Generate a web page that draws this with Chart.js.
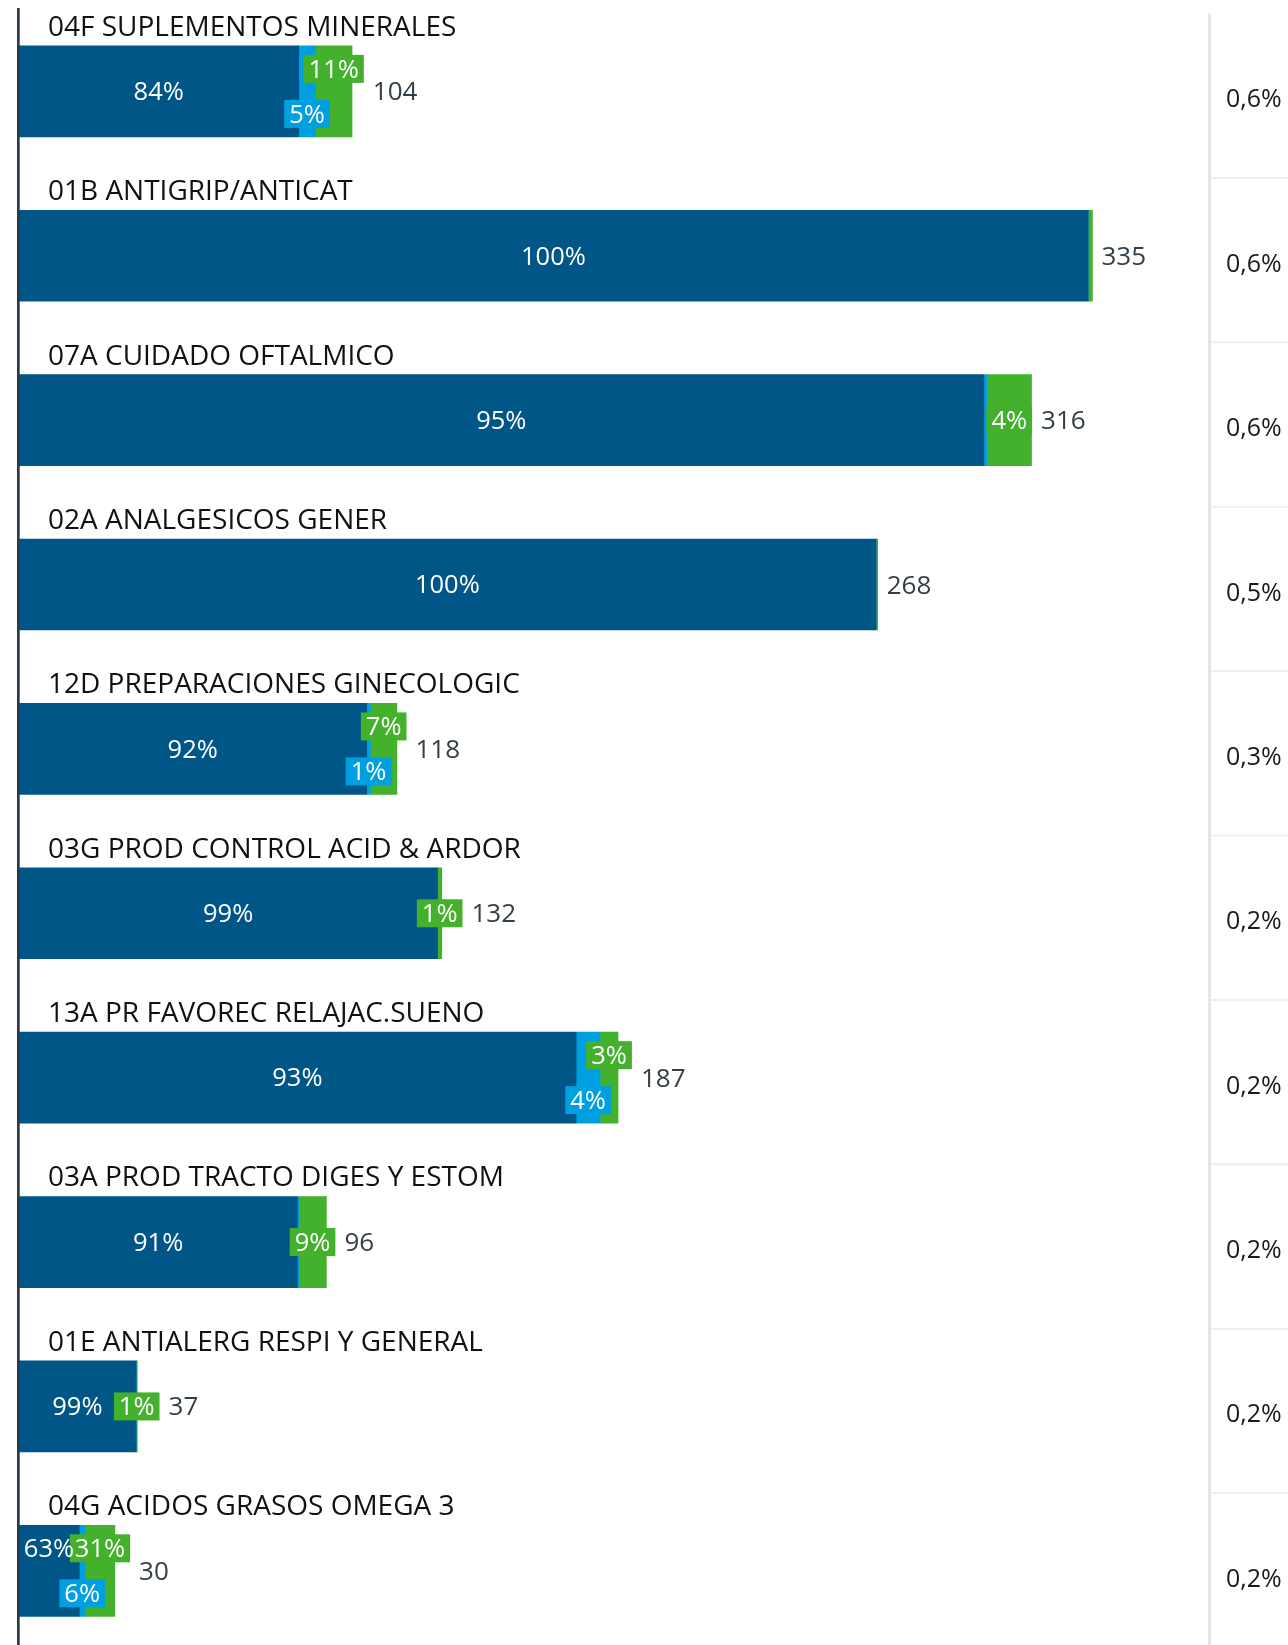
<!DOCTYPE html>
<html lang="es">
<head>
<meta charset="utf-8">
<title>Categorías</title>
<script src="https://cdn.jsdelivr.net/npm/chart.js@4.4.1/dist/chart.umd.min.js"></script>
<style>
  html, body { margin: 0; padding: 0; background: #ffffff; }
  #wrap { width: 1288px; height: 1645px; overflow: hidden; position: relative; }
  canvas { display: block; }
</style>
</head>
<body>
<div id="wrap"><canvas id="c" width="1288" height="1660"></canvas></div>
<script>
// Categories, totals and the split of each total (percent) across three segments
const categories = [
  '04F SUPLEMENTOS MINERALES',
  '01B ANTIGRIP/ANTICAT',
  '07A CUIDADO OFTALMICO',
  '02A ANALGESICOS GENER',
  '12D PREPARACIONES GINECOLOGIC',
  '03G PROD CONTROL ACID & ARDOR',
  '13A PR FAVOREC RELAJAC.SUENO',
  '03A PROD TRACTO DIGES Y ESTOM',
  '01E ANTIALERG RESPI Y GENERAL',
  '04G ACIDOS GRASOS OMEGA 3'
];
const totals    = [104, 335, 316, 268, 118, 132, 187, 96, 37, 30];
const pctDark   = [84, 99.6, 95.3, 99.8, 92, 99, 93, 90.6, 99, 63];
const pctLight  = [5, 0, 0.3, 0, 1, 0, 4, 0.4, 0, 6];
const pctGreen  = [11, 0.4, 4.4, 0.2, 7, 1, 3, 9, 1, 31];
const shareLabels = ['0,6%', '0,6%', '0,6%', '0,5%', '0,3%', '0,2%', '0,2%', '0,2%', '0,2%', '0,2%'];

const COLORS = ['#005687', '#009fdf', '#44b12c'];
const FONT = '"Open Sans", "Noto Sans", "DejaVu Sans", sans-serif';
const PCTS = [pctDark, pctLight, pctGreen];

function segmentValues(pcts) {
  return totals.map((t, i) => t * pcts[i] / 100);
}

// Percent labels on the segments, totals at the bar ends and the share column on the right
const barAnnotations = {
  id: 'barAnnotations',
  afterDatasetsDraw(chart) {
    const ctx = chart.ctx;
    const W = chart.width, H = chart.height;
    ctx.save();

    for (let i = 0; i < categories.length; i++) {
      const els = [0, 1, 2].map(d => chart.getDatasetMeta(d).data[i]);
      const cy = els[0].y;

      ctx.font = `25.5px ${FONT}`;
      const info = els.map((el, d) => {
        const r = Math.round(PCTS[d][i]);
        const text = r + '%';
        const left = Math.min(el.base, el.x);
        const right = Math.max(el.base, el.x);
        const w = ctx.measureText(text).width + 10;
        return { show: r >= 1, text, cx: (left + right) / 2, cy, w, h: 28, color: COLORS[d] };
      });
      const [dk, lt, gr] = info;

      // light and green labels split up/down when both are present
      if (lt.show && gr.show) { gr.cy = cy - 22.5; lt.cy = cy + 22.5; }
      // main label steps up when it would run into the lower label
      if (dk.show && lt.show && lt.cy !== cy && dk.cx + dk.w / 2 > lt.cx - lt.w / 2) {
        dk.cy = cy - 22.5;
      }

      ctx.textAlign = 'center';
      ctx.textBaseline = 'alphabetic';
      let rightMost = els[2].x;
      [lt, gr].forEach(lb => {
        if (!lb.show) return;
        ctx.fillStyle = lb.color;
        ctx.fillRect(lb.cx - lb.w / 2, lb.cy - lb.h / 2, lb.w, lb.h);
        ctx.fillStyle = '#ffffff';
        ctx.fillText(lb.text, lb.cx, lb.cy + 8.8);
        rightMost = Math.max(rightMost, lb.cx + lb.w / 2);
      });
      if (dk.show) {
        ctx.fillStyle = '#ffffff';
        ctx.fillText(dk.text, dk.cx, dk.cy + 8.8);
      }

      // total at the end of the bar
      ctx.font = `26px ${FONT}`;
      ctx.textAlign = 'left';
      ctx.fillStyle = '#333f48';
      ctx.fillText(String(totals[i]), rightMost + 9, cy + 9);
    }

    // share column
    const y0 = chart.getDatasetMeta(0).data[0].y;
    const colX = 1209.5;
    ctx.strokeStyle = '#e6e6e6';
    ctx.lineWidth = 3;
    ctx.beginPath();
    ctx.moveTo(colX, y0 - 77.8);
    ctx.lineTo(colX, H);
    ctx.stroke();

    ctx.strokeStyle = '#efefef';
    ctx.lineWidth = 2;
    ctx.font = `25px ${FONT}`;
    ctx.fillStyle = '#1a1a1a';
    ctx.textAlign = 'left';
    for (let i = 0; i < categories.length; i++) {
      const cy = chart.getDatasetMeta(0).data[i].y;
      ctx.beginPath();
      ctx.moveTo(colX + 1.5, cy + 86.6);
      ctx.lineTo(W, cy + 86.6);
      ctx.stroke();
      ctx.fillText(shareLabels[i], 1226, cy + 16);
    }
    ctx.restore();
  }
};

function build() {
  new Chart(document.getElementById('c'), {
    type: 'bar',
    data: {
      labels: categories,
      datasets: PCTS.map((p, d) => ({
        label: ['s1', 's2', 's3'][d],
        data: segmentValues(p),
        backgroundColor: COLORS[d],
        borderWidth: 0,
        barThickness: 91
      }))
    },
    options: {
      indexAxis: 'y',
      responsive: false,
      animation: false,
      devicePixelRatio: 1,
      layout: { padding: { top: 9.2, bottom: 7, left: 18.7, right: 83.4 } },
      plugins: { legend: { display: false }, tooltip: { enabled: false } },
      scales: {
        x: { type: 'linear', stacked: true, min: 0, max: 370, display: false },
        y: {
          type: 'category',
          stacked: true,
          offset: true,
          grid: { display: false, drawTicks: false },
          border: { display: true, color: '#2c3a47', width: 2.7, z: 1 },
          ticks: {
            mirror: true,
            padding: 29.3,
            labelOffset: -63.6,
            autoSkip: false,
            color: '#111111',
            font: { family: FONT, size: 28 }
          },
          afterFit(scale) {
            // titles sit inside the plot area; the axis itself takes no room
            scale.width = 0;
            scale.paddingTop = 0;
            scale.paddingBottom = 0;
          }
        }
      }
    },
    plugins: [barAnnotations]
  });
}

if (document.fonts && document.fonts.load) {
  document.fonts.load(`25px "Open Sans"`).then(build, build);
} else {
  build();
}
</script>
</body>
</html>
